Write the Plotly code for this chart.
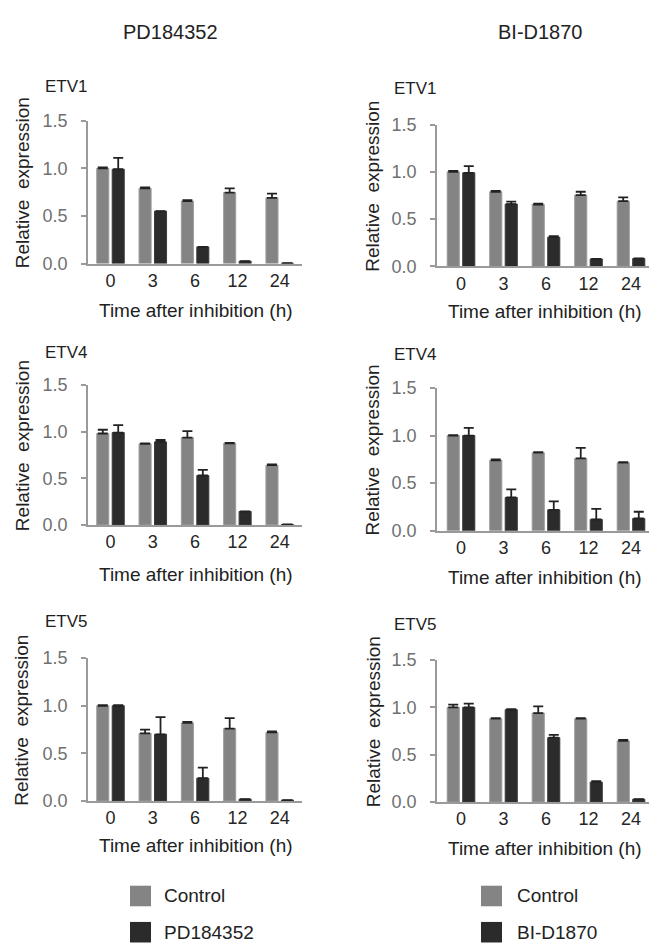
import plotly.graph_objects as go

# ---------------- data ----------------
time_labels = ["0", "3", "6", "12", "24"]
genes = ["ETV1", "ETV4", "ETV5"]
inhibitors = ["PD184352", "BI-D1870"]

# PD184352 column
pd_etv1_ctrl = [1.00, 0.79, 0.655, 0.745, 0.69]
pd_etv1_ctrl_err = [0.01, 0.01, 0.01, 0.045, 0.045]
pd_etv1_trt = [0.99, 0.55, 0.175, 0.025, 0.005]
pd_etv1_trt_err = [0.12, 0.0, 0.0, 0.0, 0.0]

pd_etv4_ctrl = [0.98, 0.87, 0.935, 0.875, 0.64]
pd_etv4_ctrl_err = [0.04, 0.005, 0.07, 0.005, 0.01]
pd_etv4_trt = [0.99, 0.89, 0.53, 0.145, 0.005]
pd_etv4_trt_err = [0.08, 0.02, 0.06, 0.0, 0.0]

pd_etv5_ctrl = [1.00, 0.71, 0.82, 0.76, 0.72]
pd_etv5_ctrl_err = [0.005, 0.04, 0.01, 0.11, 0.01]
pd_etv5_trt = [1.00, 0.70, 0.24, 0.02, 0.01]
pd_etv5_trt_err = [0.005, 0.18, 0.11, 0.0, 0.0]

# BI-D1870 column
bi_etv1_ctrl = [1.00, 0.79, 0.655, 0.755, 0.69]
bi_etv1_ctrl_err = [0.01, 0.01, 0.01, 0.035, 0.04]
bi_etv1_trt = [0.99, 0.66, 0.31, 0.08, 0.085]
bi_etv1_trt_err = [0.07, 0.025, 0.01, 0.0, 0.0]

bi_etv4_ctrl = [1.00, 0.74, 0.82, 0.76, 0.715]
bi_etv4_ctrl_err = [0.005, 0.01, 0.005, 0.11, 0.005]
bi_etv4_trt = [1.00, 0.35, 0.22, 0.12, 0.13]
bi_etv4_trt_err = [0.08, 0.085, 0.09, 0.11, 0.07]

bi_etv5_ctrl = [1.00, 0.88, 0.94, 0.88, 0.645]
bi_etv5_ctrl_err = [0.03, 0.005, 0.07, 0.005, 0.01]
bi_etv5_trt = [1.00, 0.975, 0.68, 0.21, 0.03]
bi_etv5_trt_err = [0.04, 0.005, 0.03, 0.01, 0.0]

y_tickvals = [0, 0.5, 1.0, 1.5]
y_ticktext = ["0.0", "0.5", "1.0", "1.5"]

# ---------------- layout helpers ----------------
W, H = 649, 952
FONT = "Liberation Sans, Arial, Helvetica, sans-serif"
CTRL_COLOR = "#848484"
TRT_COLOR = "#2b2b2b"
AXIS_COLOR = "#9a9a9a"

def px(x):
    return x / W

def py(y):
    return 1 - y / H

panels = [
    # (col, row, ctrl, ctrl_err, trt, trt_err)
    (0, 0, pd_etv1_ctrl, pd_etv1_ctrl_err, pd_etv1_trt, pd_etv1_trt_err),
    (1, 0, bi_etv1_ctrl, bi_etv1_ctrl_err, bi_etv1_trt, bi_etv1_trt_err),
    (0, 1, pd_etv4_ctrl, pd_etv4_ctrl_err, pd_etv4_trt, pd_etv4_trt_err),
    (1, 1, bi_etv4_ctrl, bi_etv4_ctrl_err, bi_etv4_trt, bi_etv4_trt_err),
    (0, 2, pd_etv5_ctrl, pd_etv5_ctrl_err, pd_etv5_trt, pd_etv5_trt_err),
    (1, 2, bi_etv5_ctrl, bi_etv5_ctrl_err, bi_etv5_trt, bi_etv5_trt_err),
]

# pixel geometry: (x_left, x_right, first group center, group spacing)
col_geom = {0: (88, 302, 110.5, 42.3), 1: (437, 649, 461.0, 42.5)}
# (top pixel of 1.5, bottom pixel of 0.0) per (col,row)
row_geom = {
    (0, 0): (113, 259), (1, 0): (117, 262),
    (0, 1): (383, 526), (1, 1): (386, 532),
    (0, 2): (662, 808), (1, 2): (664, 809),
}
gene_label_y = {(0, 0): 78, (1, 0): 80, (0, 1): 350, (1, 1): 352, (0, 2): 625, (1, 2): 628}
xtitle_y = {(0, 0): 307, (1, 0): 308, (0, 1): 577, (1, 1): 580, (0, 2): 853, (1, 2): 856}
gene_label_x = {0: 43, 1: 392}
ylabel_x = {0: 22, 1: 373}
xtitle_cx = {0: 196, 1: 545}

fig = go.Figure()
layout = dict(
    width=W, height=H, autosize=False,
    margin=dict(l=0, r=0, t=0, b=0),
    paper_bgcolor="white", plot_bgcolor="white",
    barmode="overlay", showlegend=False,
    font=dict(family=FONT, color="#222"),
)
annotations = []
shapes = []

BAR_W = 0.285
for i, (col, row, ctrl, ctrl_err, trt, trt_err) in enumerate(panels):
    n = i + 1
    xa = "x" if n == 1 else f"x{n}"
    ya = "y" if n == 1 else f"y{n}"
    xl, xr, c0, sp = col_geom[col]
    yt, yb = row_geom[(col, row)]
    err_style = dict(type="data", symmetric=False, color="#222", thickness=1.8, width=5)
    fig.add_trace(go.Bar(
        x=time_labels, y=ctrl, xaxis=xa, yaxis=ya, name="Control",
        width=BAR_W, offset=-0.325,
        marker=dict(color=CTRL_COLOR, line=dict(color="#9c9c9c", width=1)),
        error_y=dict(array=ctrl_err, arrayminus=[0] * len(ctrl), **err_style),
    ))
    fig.add_trace(go.Bar(
        x=time_labels, y=trt, xaxis=xa, yaxis=ya, name=inhibitors[col],
        width=BAR_W, offset=0.04,
        marker=dict(color=TRT_COLOR, line=dict(color="#3c3c3c", width=1)),
        error_y=dict(array=trt_err, arrayminus=[0] * len(trt), **err_style),
    ))
    xkey = "xaxis" if n == 1 else f"xaxis{n}"
    ykey = "yaxis" if n == 1 else f"yaxis{n}"
    layout[xkey] = dict(
        domain=[px(xl), px(xr)], anchor=ya, type="category",
        categoryorder="array", categoryarray=time_labels,
        range=[(xl - c0) / sp, (xr - c0) / sp],
        showline=True, linecolor=AXIS_COLOR, linewidth=1.5,
        ticks="", showgrid=False, zeroline=False,
        tickfont=dict(size=18, color="#262626", family=FONT),
    )
    layout[ykey] = dict(
        domain=[py(yb), py(yt)], anchor=xa, range=[0, 1.5],
        tickvals=y_tickvals, ticktext=y_ticktext,
        showline=True, linecolor=AXIS_COLOR, linewidth=1.5,
        ticks="outside", ticklen=5, tickcolor=AXIS_COLOR, tickwidth=1.5,
        ticklabelstandoff=10,
        showgrid=False, zeroline=False,
        tickfont=dict(size=18, color="#707070", family=FONT),
    )
    # gene label
    annotations.append(dict(
        text=genes[row], xref="paper", yref="paper",
        x=px(gene_label_x[col]), y=py(gene_label_y[(col, row)]),
        xanchor="left", yanchor="middle", showarrow=False,
        font=dict(size=17, color="#1e1e1e", family=FONT),
    ))
    # y axis title
    annotations.append(dict(
        text="Relative\u00a0 expression", xref="paper", yref="paper",
        x=px(ylabel_x[col]), y=py((yt + yb) / 2 - 9),
        xanchor="center", yanchor="middle", textangle=-90, showarrow=False,
        font=dict(size=19, color="#222", family=FONT),
    ))
    # x axis title
    annotations.append(dict(
        text="Time after inhibition (h)", xref="paper", yref="paper",
        x=px(xtitle_cx[col]), y=py(xtitle_y[(col, row)]),
        xanchor="center", yanchor="middle", showarrow=False,
        font=dict(size=19, color="#222", family=FONT),
    ))

# column titles
for col, cx in ((0, 170), (1, 540)):
    annotations.append(dict(
        text=inhibitors[col], xref="paper", yref="paper",
        x=px(cx), y=py(22), xanchor="center", yanchor="middle", showarrow=False,
        font=dict(size=20, color="#222", family=FONT),
    ))

# legends (one per column)
legend_geom = {0: (130, 162), 1: (481, 515)}
legend_rows = [(905, "Control", CTRL_COLOR), (942, None, TRT_COLOR)]
for col in (0, 1):
    sx, tx = legend_geom[col]
    for ly, label, color in legend_rows:
        text = label if label else inhibitors[col]
        shapes.append(dict(
            type="rect", xref="paper", yref="paper",
            x0=px(sx), x1=px(sx + 21), y0=py(ly + 10.5), y1=py(ly - 10.5),
            fillcolor=color, line=dict(width=0),
        ))
        annotations.append(dict(
            text=text, xref="paper", yref="paper",
            x=px(tx), y=py(ly), xanchor="left", yanchor="middle", showarrow=False,
            font=dict(size=19, color="#222", family=FONT),
        ))

layout["annotations"] = annotations
layout["shapes"] = shapes
fig.update_layout(**layout)
fig.write_html(
    "out.html",
    config={"displayModeBar": False},
    post_script="document.body.style.margin='0';document.body.style.overflow='hidden';",
)
